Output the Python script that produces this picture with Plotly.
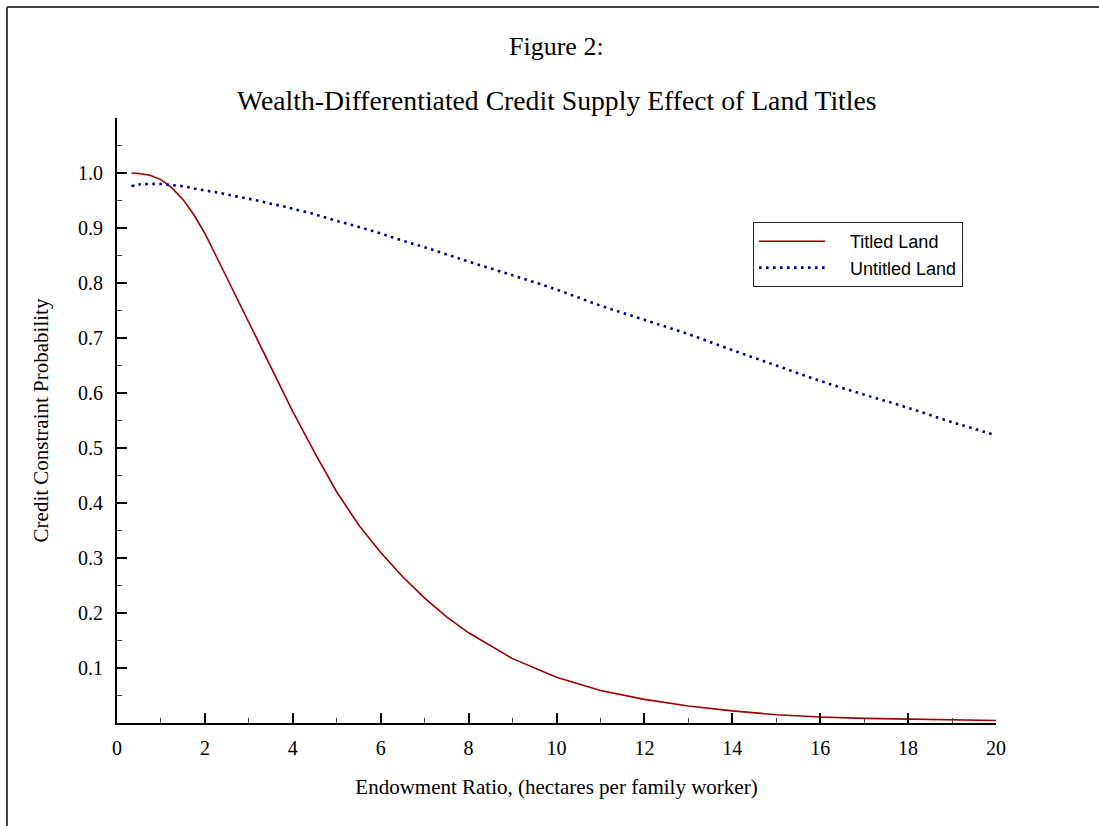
import plotly.graph_objects as go

# Endowment ratio (hectares per family worker)
endowment = [0.33, 0.5, 0.75, 1.0, 1.25, 1.5, 1.75, 2.0, 2.25, 2.5, 2.75, 3.0,
             3.25, 3.5, 3.75, 4.0, 4.5, 5.0, 5.5, 6.0, 6.5, 7.0, 7.5, 8.0, 9.0, 10.0,
             11.0, 12.0, 13.0, 14.0, 15.0, 16.0, 17.0, 18.0, 19.0, 20.0]

# Credit constraint probability with titled land
titled = [1.000, 0.999, 0.996, 0.988, 0.973, 0.952, 0.924, 0.890, 0.850, 0.809, 0.768, 0.727,
          0.686, 0.646, 0.606, 0.566, 0.491, 0.420, 0.360, 0.310, 0.266, 0.227, 0.193, 0.164,
          0.117, 0.083, 0.059, 0.043, 0.031, 0.022, 0.015, 0.011, 0.0085, 0.007, 0.0055, 0.0045]

# Credit constraint probability with untitled land
untitled = [0.976, 0.979, 0.980, 0.980, 0.978, 0.976, 0.972, 0.968, 0.965, 0.961, 0.957, 0.953,
            0.949, 0.944, 0.940, 0.935, 0.925, 0.913, 0.902, 0.890, 0.877, 0.865, 0.852, 0.839,
            0.814, 0.788, 0.759, 0.733, 0.707, 0.678, 0.650, 0.622, 0.597, 0.573, 0.547, 0.523]

x_ticks = [0, 2, 4, 6, 8, 10, 12, 14, 16, 18, 20]
y_ticks = [0.1, 0.2, 0.3, 0.4, 0.5, 0.6, 0.7, 0.8, 0.9, 1.0]

SERIF = "Times New Roman, Liberation Serif, serif"
SANS = "Arial, Liberation Sans, sans-serif"
PAD = "\u00a0" * 4  # gap between legend sample and label

fig = go.Figure()
fig.add_trace(go.Scatter(x=endowment, y=titled, mode="lines", name=PAD + "Titled Land",
                         line=dict(color="#990000", width=1.6)))
fig.add_trace(go.Scatter(x=endowment, y=untitled, mode="lines", name=PAD + "Untitled Land",
                         line=dict(color="#000088", width=2.6, dash="2.6px,4.4px"),
                         line_shape="spline"))

W, H = 1099, 826
L, R, T, B = 117, 103, 118, 103
pw, ph = W - L - R, H - T - B


def px_x(p):
    return (p - L) / pw


def px_y(p):
    return (H - B - p) / ph


axis_common = dict(showgrid=False, zeroline=False, showline=True, linecolor="black",
                   linewidth=2, ticks="inside", ticklen=10, tickwidth=2, tickcolor="black",
                   tickfont=dict(family=SERIF, size=20, color="black"))

fig.update_xaxes(range=[0, 20], tickmode="array", tickvals=x_ticks, ticklabelstandoff=6,
                 title=dict(text="Endowment Ratio, (hectares per family worker)",
                            font=dict(family=SERIF, size=21, color="black"), standoff=21),
                 minor=dict(tickmode="array", tickvals=list(range(1, 20, 2)), ticks="inside",
                            ticklen=5, tickwidth=1, tickcolor="#444"),
                 **axis_common)
fig.update_yaxes(range=[0, 1.1], tickmode="array", tickvals=y_ticks, tickformat=".1f",
                 ticklabelstandoff=8,
                 title=dict(text="Credit Constraint Probability",
                            font=dict(family=SERIF, size=21, color="black"), standoff=24),
                 minor=dict(tickmode="array",
                            tickvals=[0.05 + 0.1 * i for i in range(11)], ticks="inside",
                            ticklen=5, tickwidth=1, tickcolor="#444"),
                 **axis_common)

fig.update_layout(
    width=W, height=H,
    margin=dict(l=L, r=R, t=T, b=B),
    paper_bgcolor="white", plot_bgcolor="white",
    showlegend=True,
    legend=dict(x=px_x(753), y=px_y(222), xanchor="left", yanchor="top",
                bgcolor="white", bordercolor="#222", borderwidth=1,
                font=dict(family=SANS, size=18, color="black"),
                itemwidth=66, tracegroupgap=0),
    annotations=[
        dict(text="Figure 2:", xref="paper", yref="paper", x=0.5, y=px_y(46),
             yanchor="middle", showarrow=False,
             font=dict(family=SERIF, size=26, color="black")),
        dict(text="Wealth-Differentiated Credit Supply Effect of Land Titles",
             xref="paper", yref="paper", x=0.5, y=px_y(100), yanchor="middle",
             showarrow=False, font=dict(family=SERIF, size=27.7, color="black")),
    ],
    shapes=[
        dict(type="line", xref="paper", yref="paper", x0=px_x(7), x1=px_x(7),
             y0=px_y(7), y1=px_y(830), line=dict(color="#444", width=2)),
        dict(type="line", xref="paper", yref="paper", x0=px_x(7), x1=px_x(1105),
             y0=px_y(7), y1=px_y(7), line=dict(color="#444", width=2)),
    ],
)

fig.write_html("out.html")
